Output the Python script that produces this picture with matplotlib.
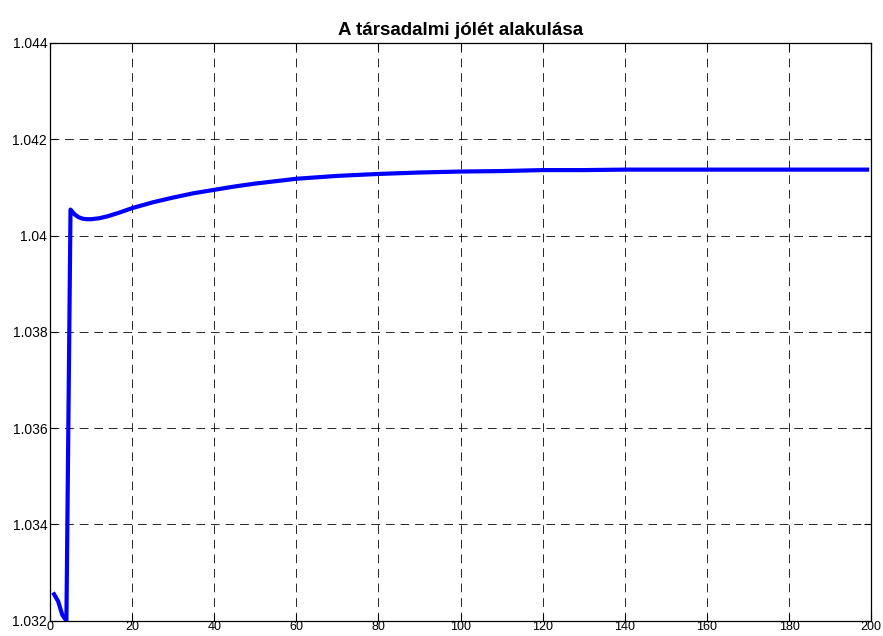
import matplotlib
matplotlib.use("Agg")
import matplotlib.pyplot as plt

plt.rcParams['font.family'] = ['Liberation Sans', 'DejaVu Sans']

# Social welfare path over time
periods = [1, 2, 3, 4, 5, 6, 7, 8, 9, 10, 12, 14, 17, 20, 25, 30, 35, 40, 45, 50,
           55, 60, 65, 70, 75, 80, 90, 100, 110, 120, 130, 140, 160, 180, 199]
welfare = [1.03255, 1.03240, 1.03212, 1.03200, 1.04054, 1.04044, 1.04038,
           1.04035, 1.04034, 1.04034, 1.04036, 1.04040, 1.04048, 1.04057,
           1.04069, 1.04079, 1.04088, 1.04095, 1.04102, 1.04108, 1.04113,
           1.04118, 1.04121, 1.04124, 1.04126, 1.04128, 1.04131, 1.04133,
           1.04134, 1.04136, 1.04136, 1.04137, 1.04137, 1.04137, 1.04137]

x_ticks = [0, 20, 40, 60, 80, 100, 120, 140, 160, 180, 200]
y_ticks = [1.032, 1.034, 1.036, 1.038, 1.04, 1.042, 1.044]
y_labels = ['1.032', '1.034', '1.036', '1.038', '1.04', '1.042', '1.044']

fig = plt.figure(figsize=(8.83, 6.36), dpi=100)
ax = fig.add_axes([0.0566, 0.024, 0.93, 0.9084])

ax.plot(periods, welfare, color='#0000ff', lw=3.0, solid_joinstyle='round')

ax.set_xlim(0, 200)
ax.set_ylim(1.032, 1.044)
ax.set_xticks(x_ticks)
ax.set_yticks(y_ticks)
ax.set_yticklabels(y_labels)

ax.grid(True, color='black', linestyle=(0, (9, 6)), linewidth=0.7, alpha=0.85)
ax.tick_params(direction='in', length=5, width=0.8, top=True, right=True,
               labelsize=10, pad=2)
ax.tick_params(axis='x', labelsize=9, pad=0.5)
for s in ax.spines.values():
    s.set_linewidth(0.9)

ax.set_title('A társadalmi jólét alakulása', fontsize=13.5, fontweight='bold', pad=6)

fig.savefig('out.png', dpi=100)
